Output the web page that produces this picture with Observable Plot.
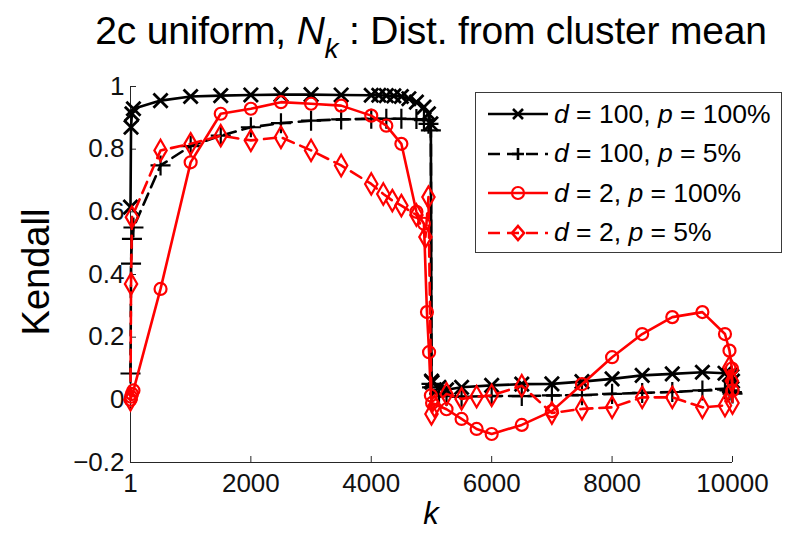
<!DOCTYPE html>
<html><head><meta charset="utf-8">
<script src="https://cdn.jsdelivr.net/npm/d3@7"></script>
<script src="https://cdn.jsdelivr.net/npm/@observablehq/plot@0.6"></script>
<style>
body{margin:0;background:#fff;font-family:"Liberation Sans",Arial,sans-serif;}
#wrap{position:relative;width:797px;height:534px;overflow:hidden;background:#fff;}
#title{position:absolute;left:0;width:862px;top:11px;text-align:center;font-size:39px;color:#000;white-space:nowrap;line-height:1;letter-spacing:-0.2px;}
#title sub{font-size:0.72em;vertical-align:-0.5em;line-height:0;}
#chart{position:absolute;left:0;top:70px;}
#ylab{position:absolute;left:36px;top:272px;transform:translate(-50%,-50%) rotate(-90deg);font-size:38px;white-space:nowrap;line-height:1;}
#xlab{position:absolute;left:431px;top:513px;transform:translate(-50%,-50%);font-size:31px;font-style:italic;line-height:1;}
#legend{position:absolute;left:475px;top:92px;width:305px;height:159px;border:1.5px solid #3a3a3a;background:#fff;}
.row{position:absolute;left:0;height:30px;display:flex;align-items:center;}
.row svg{margin-left:12px;}
.row span{margin-left:6px;font-size:26.5px;white-space:nowrap;}
</style>
</head><body>
<div id="wrap">
  <div id="title">2c uniform, <i>N</i><sub><i>k</i></sub> : Dist. from cluster mean</div>
  <div id="chart"></div>
  <div id="ylab">Kendall</div>
  <div id="xlab">k</div>
  <div id="legend"></div>
</div>
<script>
// ---- tick values / labels ----
const xTicks = [1, 2000, 4000, 6000, 8000, 10000];
const xTickLabels = ["1", "2000", "4000", "6000", "8000", "10000"];
const yTicks = [-0.2, 0, 0.2, 0.4, 0.6, 0.8, 1];
const yTickLabels = ["\u22120.2", "0", "0.2", "0.4", "0.6", "0.8", "1"];

// ---- series names ----
const seriesNames = ["d = 100, p = 100%", "d = 100, p = 5%", "d = 2, p = 100%", "d = 2, p = 5%"];

// ---- d = 100, p = 100% ----
const kD100P100 = [1, 10, 25, 50, 500, 1000, 1500, 2000, 2500, 3000, 3500, 4000, 4125, 4250, 4375, 4500, 4625, 4750, 4875, 4950, 4990, 5000, 5010, 5125, 5250, 5500, 6000, 6500, 7000, 7500, 8000, 8500, 9000, 9500, 9875, 9950, 9990, 10000];
const vD100P100 = [0.615, 0.87, 0.913, 0.929, 0.955, 0.968, 0.971, 0.973, 0.974, 0.974, 0.973, 0.972, 0.972, 0.971, 0.970, 0.968, 0.961, 0.950, 0.934, 0.913, 0.881, 0.06, 0.056, 0.04, 0.032, 0.04, 0.046, 0.05, 0.051, 0.058, 0.067, 0.078, 0.083, 0.088, 0.085, 0.08, 0.075, 0.06];

// ---- d = 100, p = 5% ----
const kD100P5 = [1, 10, 25, 50, 500, 1000, 1500, 2000, 2500, 3000, 3500, 4000, 4250, 4500, 4750, 4875, 4950, 4990, 5000, 5010, 5125, 5250, 5500, 6000, 6500, 7000, 7500, 8000, 8500, 9000, 9500, 9875, 9950, 9990, 10000];
const vD100P5 = [0.084, 0.435, 0.514, 0.55, 0.748, 0.81, 0.843, 0.87, 0.883, 0.891, 0.895, 0.897, 0.897, 0.897, 0.896, 0.893, 0.881, 0.86, 0.051, 0.04, 0.02, 0.012, 0.01, 0.012, 0.012, 0.014, 0.015, 0.019, 0.022, 0.025, 0.03, 0.035, 0.03, 0.025, 0.02];

// ---- d = 2, p = 100% ----
const kD2P100 = [1, 10, 25, 50, 500, 1000, 1500, 2000, 2500, 3000, 3500, 4000, 4250, 4500, 4750, 4875, 4925, 4960, 4990, 5010, 5250, 5500, 5750, 6000, 6500, 7000, 7500, 8000, 8500, 9000, 9500, 9875, 9950, 9990, 10000];
const vD2P100 = [0.0, 0.01, 0.019, 0.03, 0.354, 0.758, 0.913, 0.929, 0.95, 0.945, 0.939, 0.907, 0.875, 0.817, 0.6, 0.562, 0.28, 0.152, 0.014, -0.01, -0.03, -0.061, -0.093, -0.109, -0.08, -0.036, 0.05, 0.136, 0.21, 0.264, 0.28, 0.21, 0.157, 0.1, 0.03];

// ---- d = 2, p = 5% ----
const kD2P5 = [1, 10, 25, 500, 1000, 1500, 2000, 2500, 3000, 3500, 4000, 4200, 4350, 4500, 4750, 4900, 4950, 5000, 5050, 5250, 5500, 5750, 6000, 6500, 7000, 7500, 8000, 8500, 9000, 9500, 9875, 9950, 9990, 10000];
const vD2P5 = [0.0, 0.37, 0.583, 0.796, 0.817, 0.843, 0.828, 0.838, 0.796, 0.748, 0.689, 0.657, 0.636, 0.62, 0.59, 0.52, 0.647, -0.045, -0.02, 0.019, 0.003, 0.01, 0.014, 0.045, -0.042, -0.029, -0.024, 0.008, 0.008, -0.024, -0.018, 0.104, 0.06, -0.01];

const styles = [
  {color: "#000000", dash: null, symbol: "times"},
  {color: "#000000", dash: "12,7", symbol: "plus"},
  {color: "#ff0000", dash: null, symbol: "circle"},
  {color: "#ff0000", dash: "12,7", symbol: "diamond"}
];
const series = [[kD100P100, vD100P100], [kD100P5, vD100P5], [kD2P100, vD2P100], [kD2P5, vD2P5]];

const marks = [];
const axisColor = "#262626";
marks.push(Plot.ruleX([1], {stroke: axisColor, strokeWidth: 1}));
marks.push(Plot.ruleY([-0.2], {stroke: axisColor, strokeWidth: 1}));
marks.push(Plot.axisX(xTicks, {tickSize: -6, text: null, label: null, stroke: axisColor}));
marks.push(Plot.axisY(yTicks, {tickSize: -6, text: null, label: null, stroke: axisColor}));
marks.push(Plot.axisX(xTicks, {tickSize: 0, tickPadding: 11, label: null, fontSize: 26, fill: "#111",
  tickFormat: d => xTickLabels[xTicks.indexOf(d)]}));
marks.push(Plot.axisY(yTicks, {tickSize: 0, tickPadding: 6, label: null, fontSize: 26, fill: "#111",
  tickFormat: d => yTickLabels[yTicks.indexOf(d)]}));

series.forEach(([ks, vs], si) => {
  const st = styles[si];
  const data = ks.map((k, i) => ({k, v: vs[i]}));
  marks.push(Plot.line(data, {x: "k", y: "v", stroke: st.color, strokeWidth: 2.6, strokeDasharray: st.dash, strokeLinejoin: "round"}));
  marks.push(Plot.dot(data, {x: "k", y: "v", symbol: st.symbol, r: st.symbol === "circle" ? 6 : 6.5, stroke: st.color, strokeWidth: st.symbol === "times" ? 2.8 : 2.2, fill: "none"}));
});

const chart = Plot.plot({
  width: 797,
  height: 464,
  marginTop: 16,
  marginBottom: 72,
  marginLeft: 130,
  marginRight: 65,
  style: {fontFamily: "'Liberation Sans', Arial, sans-serif", background: "transparent", overflow: "visible"},
  x: {domain: [1, 10000], axis: null},
  y: {domain: [-0.2, 1], axis: null},
  marks
});
document.getElementById("chart").appendChild(chart);

// ---- legend (HTML overlay) ----
const legend = document.getElementById("legend");
const symbolPath = {
  times: "M-5,-5L5,5M-5,5L5,-5",
  plus: "M-6,0L6,0M0,-6L0,6",
  circle: null,
  diamond: "M0,-7L6,0L0,7L-6,0Z"
};
const labelHtml = [
  "<i>d</i> = 100, <i>p</i> = 100%",
  "<i>d</i> = 100, <i>p</i> = 5%",
  "<i>d</i> = 2, <i>p</i> = 100%",
  "<i>d</i> = 2, <i>p</i> = 5%"
];
seriesNames.forEach((name, i) => {
  const st = styles[i];
  const row = document.createElement("div");
  row.className = "row";
  row.style.top = (6 + i * 39.5) + "px";
  const dash = st.dash ? `stroke-dasharray="12,7"` : "";
  const marker = st.symbol === "circle"
    ? `<circle cx="30" cy="15" r="6" fill="none" stroke="${st.color}" stroke-width="2.2"/>`
    : `<path transform="translate(30,15)" d="${symbolPath[st.symbol]}" fill="none" stroke="${st.color}" stroke-width="2.6"/>`;
  row.innerHTML = `<svg width="60" height="30"><line x1="0" y1="15" x2="60" y2="15" stroke="${st.color}" stroke-width="2.6" ${dash}/>${marker}</svg><span>${labelHtml[i]}</span>`;
  row.title = name;
  legend.appendChild(row);
});
</script>
</body></html>
